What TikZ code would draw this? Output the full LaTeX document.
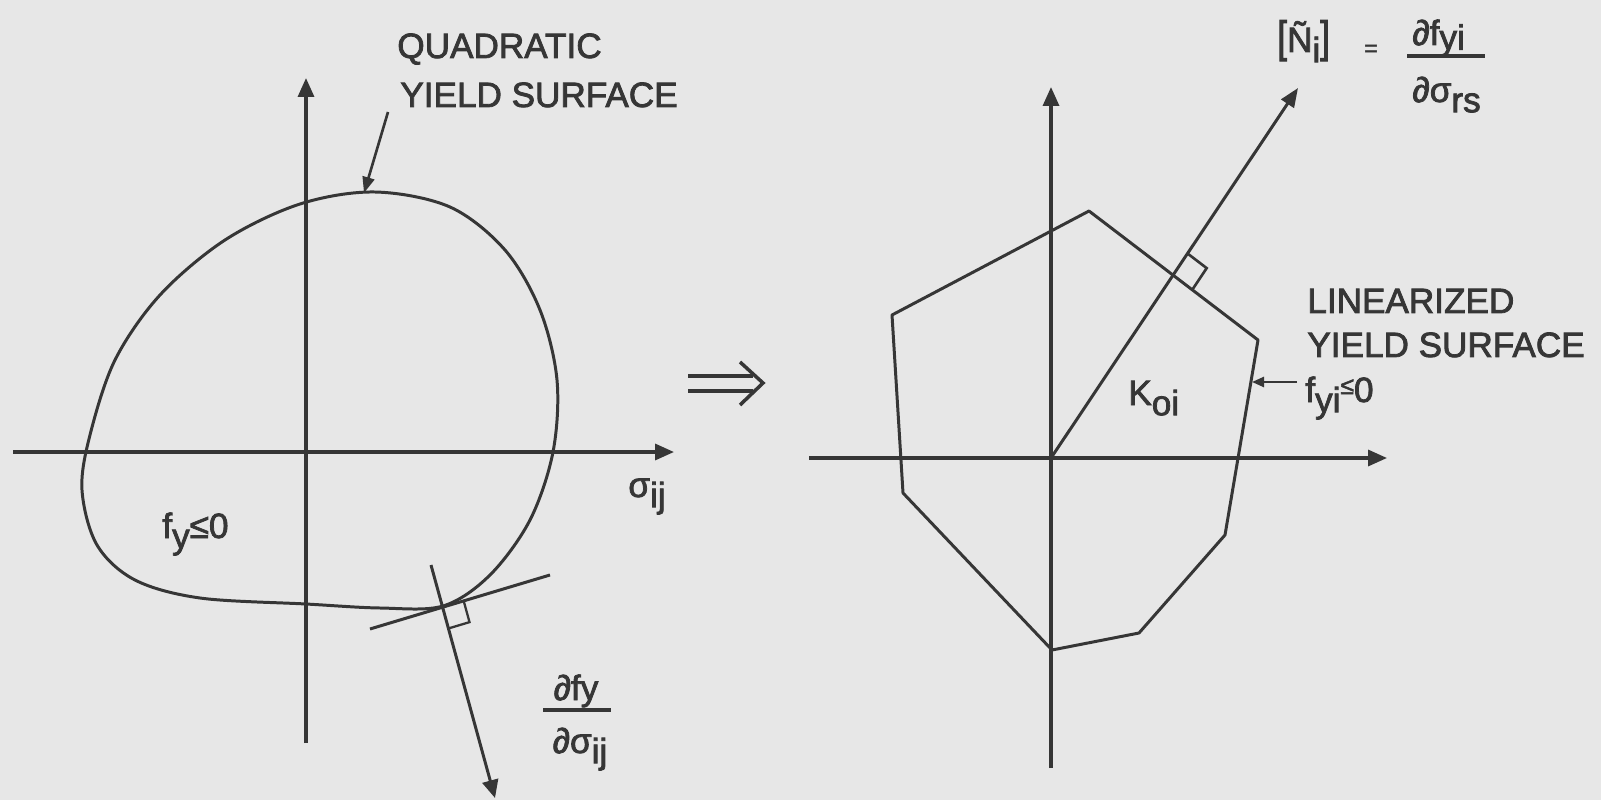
\documentclass[tikz,border=0pt]{standalone}
\usepackage{fontspec}
\setmainfont{Liberation Sans}[FakeBold=2.2]
\usetikzlibrary{arrows.meta,calc}
\definecolor{ink}{HTML}{363636}
\definecolor{paper}{HTML}{E7E7E7}
\newcommand{\lowr}[1]{\raisebox{-0.55ex}{#1}}

\begin{document}
\begin{tikzpicture}[x=0.02cm,y=-0.02cm,
  axis/.style={ink,line width=1.9pt,-{Triangle[length=0.38cm,width=0.32cm]}},
  edge/.style={ink,line width=1.7pt,line join=round},
  pointer/.style={ink,line width=1.5pt,-{Triangle[length=0.32cm,width=0.24cm]}},
  lbl/.style={ink,font=\fontsize{20}{24}\selectfont,inner sep=0pt,anchor=base west}]
  \fill[paper] (0,0) rectangle (1601,800);
  \useasboundingbox (0,0) rectangle (1601,800);

  % quadratic surface
  \draw[axis] (13,452) -- (674,452);
  \draw[axis] (306,743) -- (306,78);
  \draw[edge] plot[smooth cycle,tension=0.55] coordinates {(375,192) (450,207) (505,250)
    (540,310) (557,380) (553,452) (530,520) (490,575) (443,606) (380,608) (306,604)
    (200,598) (135,580) (97,545) (82,490) (90,435) (115,360) (160,295) (225,240)
    (300,204)};
  \node[lbl] (quad) at (397,58) {QUADRATIC};
  \node[lbl] (quadys) at (400,107) {YIELD SURFACE};
  \coordinate (top) at (364,193);
  \draw[pointer] (388,112) -- (top);
  \node[lbl] (sij) at (628,497) {σ\lowr{ij}};
  \node[lbl] (fy) at (162,538) {f\lowr{y}≤0};

  % tangent and normal
  \coordinate (tA) at (370,629);
  \coordinate (tB) at (550,575);
  \coordinate (nA) at (431,565);
  \coordinate (nB) at (495,798);
  \draw[edge] (tA) -- (tB);
  \draw[edge,-{Triangle[length=0.36cm,width=0.32cm]}] (nA) -- (nB);
  \coordinate (P) at (intersection of tA--tB and nA--nB);
  \coordinate (m1) at ($(P)!0.44cm!(tB)$);
  \coordinate (m2) at ($(P)!0.44cm!(nB)$);
  \draw[ink,line width=1.3pt] (m1) -- ($(m1)+(m2)-(P)$) -- (m2);
  \node[lbl,anchor=base] (dnum) at (576,700) {∂fy};
  \draw[ink,line width=1.8pt] (543,710) -- (611,710);
  \node[lbl,anchor=base] (dden) at (580,753) {∂σ\lowr{ij}};

  % implies
  \draw[ink,line width=2pt] (688,376) -- (753,376) (688,391) -- (753,391);
  \draw[ink,line width=2pt,line join=miter] (740,362) -- (763,383) -- (740,405);

  % linearized surface
  \draw[axis] (809,458) -- (1387,458);
  \draw[axis] (1051,768) -- (1051,87);
  \coordinate (v1) at (1089,211);
  \coordinate (v2) at (1258,340);
  \coordinate (v3) at (1225,535);
  \coordinate (v4) at (1139,633);
  \coordinate (v5) at (1052,650);
  \coordinate (v6) at (903,493);
  \coordinate (v7) at (892,315);
  \draw[edge] (v1) -- (v2) -- (v3) -- (v4) -- (v5) -- (v6) -- (v7) -- cycle;
  \coordinate (O) at (1051,458);
  \coordinate (Ntip) at (1298,88);
  \draw[edge,-{Triangle[length=0.38cm,width=0.3cm]}] (O) -- (Ntip);
  \coordinate (Q) at (intersection of O--Ntip and v1--v2);
  \coordinate (k1) at ($(Q)!0.52cm!(Ntip)$);
  \coordinate (k2) at ($(Q)!0.48cm!(v2)$);
  \draw[ink,line width=1.5pt] (k1) -- ($(k1)+(k2)-(Q)$) -- (k2);
  \node[lbl] (koi) at (1128,405) {K\lowr{oi}};

  \node[lbl] (nvec) at (1277,52) {\scalebox{1}[1.25]{[}Ñ\lowr{i}\scalebox{1}[1.25]{]}};
  \node[lbl,font=\fontsize{13}{14}\selectfont] (eq) at (1364,56) {=};
  \node[lbl] (nnum) at (1412,45) {∂f\raisebox{-0.25ex}{yi}};
  \draw[ink,line width=1.8pt] (1407,56) -- (1485,56);
  \node[lbl] (nden) at (1412,102) {∂σ\lowr{rs}};

  \node[lbl] (lin) at (1307,313) {LINEARIZED};
  \node[lbl] (linys) at (1307,357) {YIELD SURFACE};
  \node[lbl] (fyi) at (1305,402) {f\lowr{yi}{\fontsize{14}{14}\selectfont\raisebox{0.6ex}{≤}}0};
  \coordinate (side) at (1252,382);
  \draw[ink,line width=1.4pt,-{Triangle[length=0.24cm,width=0.2cm]}] (1297,382) -- (side);
\end{tikzpicture}
\end{document}
